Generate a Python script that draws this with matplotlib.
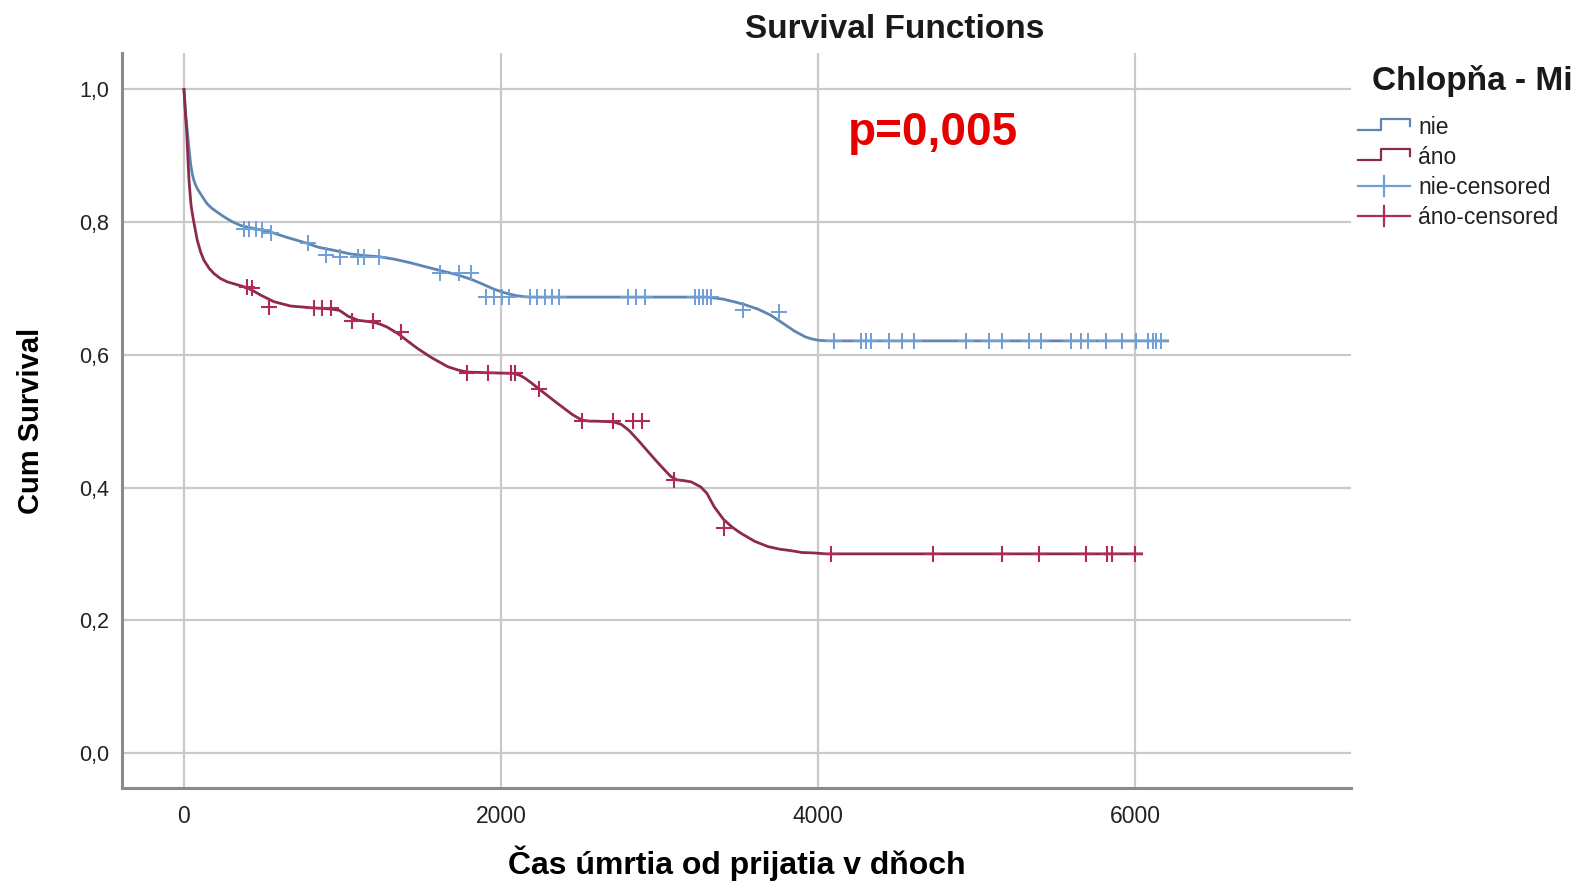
import matplotlib
matplotlib.use("Agg")
import matplotlib.pyplot as plt
from matplotlib.lines import Line2D

plt.rcParams['font.family'] = ['Liberation Sans', 'DejaVu Sans']

# ---------------- data ----------------
nie_days = [0, 10, 21, 30, 42, 52, 63, 75, 85, 105, 125, 147, 175, 210, 240, 273, 310, 357,
            400, 450, 547, 650, 778, 850, 946, 1050, 1140, 1229, 1330, 1423, 1520, 1617,
            1720, 1810, 1880, 1955, 2030, 2100, 2150, 2200, 3300, 3400, 3470, 3533, 3620,
            3700, 3776, 3850, 3920, 3960, 4000, 4040, 4080, 6206]
nie_surv = [1.0, 0.965, 0.9375, 0.915, 0.8875, 0.873, 0.8625, 0.855, 0.85, 0.8425, 0.835,
            0.8275, 0.821, 0.815, 0.81, 0.805, 0.8, 0.795, 0.7925, 0.79, 0.785, 0.777, 0.768,
            0.762, 0.7575, 0.752, 0.7495, 0.748, 0.744, 0.739, 0.733, 0.727, 0.721, 0.714,
            0.707, 0.699, 0.693, 0.689, 0.6875, 0.687, 0.687, 0.684, 0.680, 0.676, 0.669,
            0.660, 0.648, 0.636, 0.627, 0.624, 0.622, 0.6213, 0.621, 0.621]

ano_days = [0, 10, 17, 25, 32, 40, 45, 53, 62, 70, 84, 105, 126, 160, 189, 230, 273, 330,
            400, 440, 484, 568, 673, 800, 930, 980, 1000, 1036, 1100, 1200, 1240, 1280, 1350,
            1410, 1471, 1560, 1665, 1730, 1786, 1920, 2080, 2120, 2150, 2190, 2237, 2350,
            2450, 2511, 2560, 2600, 2709, 2760, 2808, 2870, 2921, 2980, 3034, 3070, 3110,
            3150, 3200, 3260, 3300, 3345, 3404, 3460, 3514, 3600, 3684, 3760, 3825, 3900,
            3966, 4050, 6042]
ano_surv = [1.0, 0.96, 0.9375, 0.895, 0.8625, 0.838, 0.825, 0.8125, 0.80, 0.79, 0.7725,
            0.755, 0.7425, 0.73, 0.7225, 0.715, 0.71, 0.706, 0.701, 0.696, 0.69, 0.68, 0.6735,
            0.671, 0.669, 0.667, 0.664, 0.658, 0.652, 0.649, 0.646, 0.642, 0.632, 0.621,
            0.61, 0.596, 0.582, 0.577, 0.574, 0.573, 0.572, 0.569, 0.565, 0.558, 0.549, 0.528,
            0.51, 0.5015, 0.5, 0.5, 0.499, 0.495, 0.486, 0.47, 0.456, 0.44, 0.426, 0.417,
            0.4115, 0.4105, 0.4085, 0.401, 0.391, 0.371, 0.352, 0.34, 0.331, 0.319, 0.311,
            0.307, 0.305, 0.302, 0.3015, 0.30, 0.30]

nie_cens_days = [378, 410, 455, 494, 550, 782, 894, 987, 1096, 1133, 1229, 1617, 1738, 1810,
                 1907, 1955, 2004, 2052, 2185, 2230, 2275, 2320, 2367, 2802, 2850, 2911,
                 3226, 3250, 3275, 3300, 3323, 3528, 3754,
                 4101, 4269, 4301, 4332, 4448, 4533, 4606, 4933, 5080, 5164, 5333, 5406,
                 5596, 5659, 5701, 5817, 5916, 6006, 6080, 6111, 6132, 6164]
nie_cens_surv = [0.789, 0.789, 0.789, 0.788, 0.784, 0.768, 0.75, 0.748, 0.748, 0.748, 0.748,
                 0.724, 0.724, 0.724, 0.687, 0.687, 0.687, 0.687, 0.687, 0.687, 0.687, 0.687,
                 0.687, 0.687, 0.687, 0.687, 0.687, 0.687, 0.687, 0.687, 0.687, 0.668, 0.665,
                 0.621, 0.621, 0.621, 0.621, 0.621, 0.621, 0.621, 0.621, 0.621, 0.621, 0.621,
                 0.621, 0.621, 0.621, 0.621, 0.621, 0.621, 0.621, 0.621, 0.621, 0.621, 0.621]

ano_cens_days = [400, 430, 536, 820, 870, 925, 1060, 1193, 1372, 1786, 1917, 2064, 2090, 2237,
                 2511, 2709, 2836, 2887, 3090, 3404, 4085, 4723, 5158, 5393, 5689, 5825,
                 5853, 6000]
ano_cens_surv = [0.702, 0.701, 0.672, 0.670, 0.670, 0.670, 0.651, 0.651, 0.634, 0.573, 0.573,
                 0.573, 0.573, 0.549, 0.5005, 0.5, 0.5, 0.5, 0.411, 0.339, 0.30, 0.30, 0.30,
                 0.30, 0.30, 0.30, 0.30, 0.30]

x_ticks = [0, 2000, 4000, 6000]
x_tick_labels = ["0", "2000", "4000", "6000"]
y_ticks = [0.0, 0.2, 0.4, 0.6, 0.8, 1.0]
y_tick_labels = ["0,0", "0,2", "0,4", "0,6", "0,8", "1,0"]
group_labels = ["nie", "áno", "nie-censored", "áno-censored"]

# ---------------- style ----------------
W, H = 1593, 882
BLUE_LINE = '#5f86b2'
BLUE_MARK = '#6e9fd6'
RED_LINE = '#8c2a4c'
RED_MARK = '#b02a52'
GRID = '#c9c9c9'
SPINE = '#8a8a8a'

fig = plt.figure(figsize=(W / 100, H / 100), dpi=100)
fig.patch.set_facecolor('white')

L, R, T, B = 122, 1351, 53, 788
ax = fig.add_axes([L / W, 1 - B / H, (R - L) / W, (B - T) / H])
ax.set_xlim(-391, 7363)
ax.set_ylim(-0.0529, 1.0549)

for s in ['top', 'right']:
    ax.spines[s].set_visible(False)
for s in ['left', 'bottom']:
    ax.spines[s].set_color(SPINE)
    ax.spines[s].set_linewidth(2.2)

ax.set_xticks(x_ticks)
ax.set_xticklabels(x_tick_labels, fontsize=16.5, color='#222222')
ax.set_yticks(y_ticks)
ax.set_yticklabels(y_tick_labels, fontsize=15.5, color='#222222')
ax.tick_params(axis='x', length=0, pad=12)
ax.tick_params(axis='y', length=0, pad=9)
ax.grid(True, color=GRID, linewidth=1.6)
ax.set_axisbelow(True)

# curves
ax.plot(nie_days, nie_surv, color=BLUE_LINE, lw=2.0, zorder=3, solid_joinstyle='round')
ax.plot(ano_days, ano_surv, color=RED_LINE, lw=2.0, zorder=3, solid_joinstyle='round')
ax.plot(nie_cens_days, nie_cens_surv, linestyle='none', marker='+', ms=11, mew=1.4,
        color=BLUE_MARK, zorder=4)
ax.plot(ano_cens_days, ano_cens_surv, linestyle='none', marker='+', ms=12, mew=1.5,
        color=RED_MARK, zorder=4)

ax.set_xlabel("Čas úmrtia od prijatia v dňoch", fontsize=23, fontweight='bold', va='center')
ax.xaxis.set_label_coords(0.5, -0.103)
ax.set_ylabel("Cum Survival", fontsize=21, fontweight='bold', va='center')
ax.yaxis.set_label_coords(-0.074, 0.5)


def fx(px):
    return px / W


def fy(py):
    return 1 - py / H


fig.text(fx(895), fy(30), "Survival Functions", ha='center', va='center',
         fontsize=24, fontweight='bold', color='#1a1a1a')
fig.text(fx(848), fy(133), "p=0,005", ha='left', va='center', fontsize=33,
         fontweight='bold', color='#e60000')

# legend drawn by hand
fig.text(fx(1372), fy(81), "Chlopňa - Mi", ha='left', va='center', fontsize=24,
         fontweight='bold', color='#1a1a1a')

leg_colors = [BLUE_LINE, RED_LINE, BLUE_MARK, RED_MARK]
leg_y = [126, 156, 186, 216]
for i, (lab, col, yy) in enumerate(zip(group_labels, leg_colors, leg_y)):
    if i < 2:
        xs = [1358, 1381, 1381, 1410, 1410]
        ys = [yy + 4, yy + 4, yy - 7, yy - 7, yy]
        fig.add_artist(Line2D([fx(v) for v in xs], [fy(v) for v in ys], color=col, lw=1.6,
                              transform=fig.transFigure))
    else:
        fig.add_artist(Line2D([fx(1358), fx(1410)], [fy(yy), fy(yy)], color=col, lw=1.6,
                              transform=fig.transFigure))
        fig.add_artist(Line2D([fx(1384), fx(1384)], [fy(yy - 10), fy(yy + 10)], color=col,
                              lw=1.6, transform=fig.transFigure))
    fig.text(fx(1418), fy(yy + 1), lab, ha='left', va='center', fontsize=16.5,
             color='#222222')

fig.savefig("out.png", dpi=100, facecolor='white')
